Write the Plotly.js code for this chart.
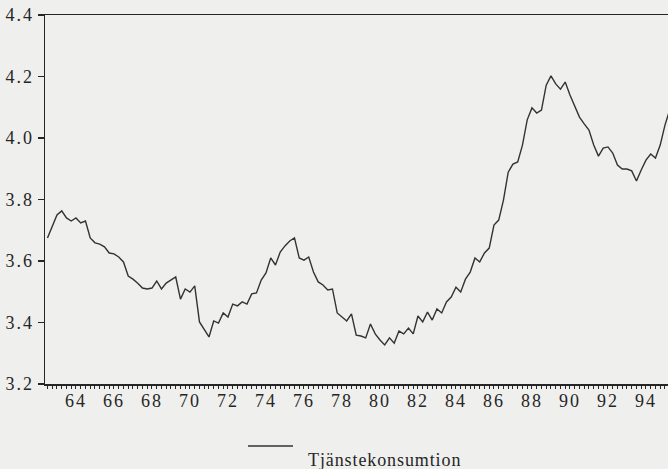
<!DOCTYPE html>
<html>
<head>
<meta charset="utf-8">
<script src="https://cdn.plot.ly/plotly-3.0.1.min.js"></script>
<style>
  html, body { margin: 0; padding: 0; overflow: hidden; background: #efefed; }
  #chart { width: 668px; height: 469px; }
  .xtick text, .ytick text { letter-spacing: 2px; }
  .annotation-text { letter-spacing: 0.9px; }
</style>
</head>
<body>
<div id="chart"></div>
<script>
// Quarterly series, first quarter 1963
const startYear = 1963;
const seriesName = "Tjänstekonsumtion";
const values = [
  3.675, 3.714, 3.750, 3.763, 3.740, 3.730, 3.740, 3.724, 3.730, 3.675,
  3.659, 3.655, 3.646, 3.626, 3.623, 3.613, 3.597, 3.551, 3.541, 3.528,
  3.512, 3.509, 3.512, 3.535, 3.509, 3.528, 3.538, 3.548, 3.476, 3.509,
  3.499, 3.519, 3.402, 3.379, 3.353, 3.405, 3.398, 3.431, 3.418, 3.460,
  3.454, 3.467, 3.460, 3.493, 3.496, 3.538, 3.561, 3.610, 3.587, 3.629,
  3.649, 3.665, 3.675, 3.610, 3.603, 3.613, 3.564, 3.532, 3.522, 3.506,
  3.509, 3.431, 3.418, 3.405, 3.428, 3.359, 3.356, 3.350, 3.395, 3.363,
  3.343, 3.327, 3.350, 3.333, 3.372, 3.363, 3.382, 3.363, 3.421, 3.402,
  3.434, 3.408, 3.444, 3.431, 3.467, 3.483, 3.515, 3.499, 3.541, 3.564,
  3.610, 3.597, 3.626, 3.642, 3.717, 3.733, 3.798, 3.889, 3.915, 3.922,
  3.977, 4.059, 4.098, 4.081, 4.091, 4.172, 4.202, 4.176, 4.159, 4.182,
  4.140, 4.101, 4.068, 4.046, 4.026, 3.977, 3.941, 3.967, 3.971, 3.951,
  3.912, 3.899, 3.899, 3.893, 3.860, 3.896, 3.928, 3.948, 3.935, 3.977,
  4.042, 4.091
];
const xTickLabels = ["64","66","68","70","72","74","76","78","80","82","84","86","88","90","92","94"];
const xTickYears = [1964,1966,1968,1970,1972,1974,1976,1978,1980,1982,1984,1986,1988,1990,1992,1994];
const yTickVals = [3.2, 3.4, 3.6, 3.8, 4.0, 4.2, 4.4];
const yTickLabels = ["3.2","3.4","3.6","3.8","4.0","4.2","4.4"];

const times = values.map((v, i) => startYear + i / 4);
// labels sit at mid-year
const xTickPos = xTickYears.map(y => y + 0.5);

const serif = "Liberation Serif";
const ink = "#262626";

const trace = {
  x: times,
  y: values,
  type: "scatter",
  mode: "lines",
  name: seriesName,
  line: { color: "#333333", width: 1.4 },
  showlegend: false,
  hoverinfo: "skip"
};

const layout = {
  width: 668,
  height: 469,
  margin: { l: 45, r: 0, t: 15, b: 85 },
  paper_bgcolor: "#efefed",
  plot_bgcolor: "#efefed",
  font: { family: serif, size: 18, color: ink },
  xaxis: {
    range: [1962.87, 1995.66],
    tickmode: "array",
    tickvals: xTickPos,
    ticktext: xTickLabels,
    ticks: "outside",
    ticklen: 3,
    tickwidth: 1,
    tickcolor: ink,
    ticklabelstandoff: -3,
    showline: true,
    linecolor: ink,
    linewidth: 1.5,
    mirror: true,
    showgrid: false,
    zeroline: false,
    tickfont: { family: serif, size: 18, color: ink },
    minor: {
      tickmode: "linear",
      tick0: 1963,
      dtick: 0.25,
      ticks: "outside",
      ticklen: 3,
      tickwidth: 1,
      tickcolor: ink,
      showgrid: false
    }
  },
  yaxis: {
    range: [3.2, 4.4],
    tickmode: "array",
    tickvals: yTickVals,
    ticktext: yTickLabels,
    ticks: "outside",
    ticklen: 6,
    tickwidth: 1.2,
    tickcolor: ink,
    showline: true,
    linecolor: ink,
    linewidth: 1.5,
    showgrid: false,
    zeroline: false,
    tickfont: { family: serif, size: 18, color: ink }
  },
  shapes: [
    {
      type: "line", xref: "paper", yref: "paper",
      x0: (248 - 45) / 623, x1: (293 - 45) / 623,
      y0: -(446 - 384) / 369, y1: -(446 - 384) / 369,
      line: { color: "#333333", width: 1.3 }
    }
  ],
  annotations: [
    {
      text: seriesName,
      xref: "paper", yref: "paper",
      x: (306 - 45) / 623, y: -(460 - 384) / 369,
      xanchor: "left", yanchor: "middle",
      showarrow: false,
      font: { family: serif, size: 18, color: ink }
    }
  ]
};

Plotly.newPlot("chart", [trace], layout, { staticPlot: true, displayModeBar: false });
</script>
</body>
</html>
